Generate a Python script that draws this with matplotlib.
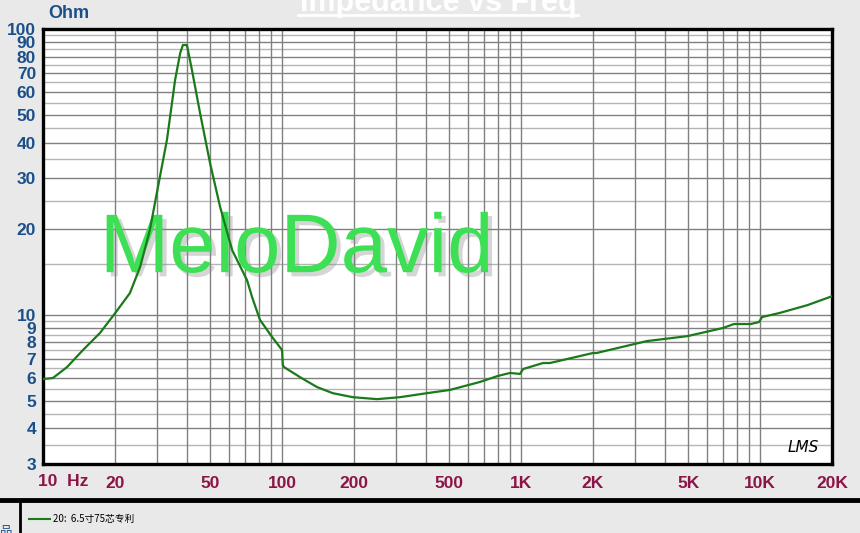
import matplotlib.pyplot as plt
import matplotlib.patheffects as pe
from matplotlib.lines import Line2D

# impedance curve (Hz, Ohm)
freq = [10, 11, 12.6, 14.7, 17.3, 20, 23.1, 25.5, 28.0, 29.4, 33.0, 35.7, 37.5,
        38.5, 40, 42.0, 45.4, 50, 55.1, 61.9, 71.4, 75, 80.9, 90.9, 100, 100.8, 102,
        119, 140, 163, 198, 250, 311, 404, 504, 672, 800, 900, 990, 1020, 1235,
        1320, 2000, 2070, 3360, 4970, 7000, 7770, 9130, 9900, 10200, 12100,
        15800, 20000]
ohm = [5.95, 6.0, 6.55, 7.52, 8.62, 10.1, 11.9, 14.7, 19.8, 24.6, 40.9, 66.3, 82.4,
       87.9, 87.9, 71.8, 50.8, 33.9, 23.8, 16.8, 13.2, 11.5, 9.58, 8.35, 7.52, 6.66, 6.55,
       6.04, 5.58, 5.31, 5.14, 5.06, 5.14, 5.31, 5.45, 5.81, 6.1, 6.25, 6.2, 6.45, 6.77,
       6.77, 7.34, 7.34, 8.08, 8.41, 8.98, 9.27, 9.27, 9.42, 9.81, 10.14,
       10.8, 11.6]

y_ticks = [3, 4, 5, 6, 7, 8, 9, 10, 20, 30, 40, 50, 60, 70, 80, 90, 100]
y_minor = [3.5, 4.5, 5.5, 6.5, 7.5, 8.5, 9.5, 15, 25, 35, 45, 55, 65, 75, 85, 95]
x_grid = [10, 20, 30, 40, 50, 60, 70, 80, 90, 100, 200, 300, 400, 500, 600, 700,
          800, 900, 1000, 2000, 3000, 4000, 5000, 6000, 7000, 8000, 9000, 10000, 20000]
x_labels = {20: "20", 50: "50", 100: "100", 200: "200", 500: "500", 1000: "1K",
            2000: "2K", 5000: "5K", 10000: "10K", 20000: "20K"}

bg = "#e9e9e9"
blue = "#1b4f8a"
maroon = "#8c1446"

fig = plt.figure(figsize=(8.6, 5.33), dpi=100, facecolor=bg)
ax = fig.add_axes([43 / 860, 69 / 533, 789 / 860, 435 / 533])
ax.set_xscale("log")
ax.set_yscale("log")
ax.set_xlim(10, 20000)
ax.set_ylim(3, 100)

for v in y_minor:
    ax.axhline(v, color="#b5b5b5", lw=1, zorder=1)
for v in y_ticks:
    ax.axhline(v, color="#808080", lw=1, zorder=1)
for v in x_grid:
    ax.axvline(v, color="#808080", lw=1, zorder=1)

ax.set_yticks(y_ticks)
ax.set_yticklabels([str(v) for v in y_ticks])
ax.set_xticks(x_grid)
ax.set_xticklabels([x_labels.get(v, "") for v in x_grid])
ax.minorticks_off()
ax.tick_params(axis="both", length=0)
ax.tick_params(axis="y", pad=5, labelsize=12.5, labelcolor=blue)
ax.tick_params(axis="x", pad=9, labelsize=12.5, labelcolor=maroon)
for t in ax.get_yticklabels() + ax.get_xticklabels():
    t.set_fontfamily("Liberation Sans")
    t.set_fontweight("bold")
for s in ax.spines.values():
    s.set_linewidth(2.4)
    s.set_color("black")

# watermark
ax.text(0.072, 0.441, "MeloDavid", transform=ax.transAxes, fontsize=60,
        family="Liberation Sans", color="#3de055", va="baseline", zorder=2,
        path_effects=[pe.withSimplePatchShadow(offset=(3, -3), shadow_rgbFace="#888888", alpha=0.35)])

ax.plot(freq, ohm, color="#1a7a1a", lw=1.6, zorder=3)

ax.text(0.963, 0.039, "LMS", transform=ax.transAxes, fontsize=11, style="italic",
        family="DejaVu Sans", color="black", ha="center", va="center")

fig.text(48 / 860, 1 - 13 / 533, "Ohm", fontsize=13, fontweight="bold",
         family="Liberation Sans", color=blue, va="center")
fig.text(38 / 860, 1 - 481 / 533, "10  Hz", fontsize=12.5, fontweight="bold",
         family="Liberation Sans", color=maroon, va="center")

fig.text(438 / 860, 1 - 11 / 533, "Impedance vs Freq", fontsize=22, fontweight="bold",
         family="Liberation Sans", color="white", ha="center", va="baseline")
fig.add_artist(Line2D([298 / 860, 578 / 860], [1 - 15 / 533, 1 - 15 / 533],
                      color="white", lw=2))

# legend strip
fig.add_artist(Line2D([0, 1], [1 - 500 / 533] * 2, color="black", lw=3.5))
fig.add_artist(Line2D([20 / 860] * 2, [0, 1 - 502 / 533], color="black", lw=2))
fig.add_artist(Line2D([29 / 860, 50 / 860], [1 - 519 / 533] * 2, color="#1a7a1a", lw=1.5))
fig.text(53 / 860, 1 - 519 / 533, "20:  6.5寸75芯专利", fontsize=7,
         family=["Noto Sans CJK SC", "DejaVu Sans"], color="black", va="center")
fig.text(0, 1 - 532 / 533, "品", fontsize=9, family=["Noto Sans CJK SC", "DejaVu Sans"],
         color=blue, va="center")

fig.savefig("out.png", dpi=100, facecolor=bg)
